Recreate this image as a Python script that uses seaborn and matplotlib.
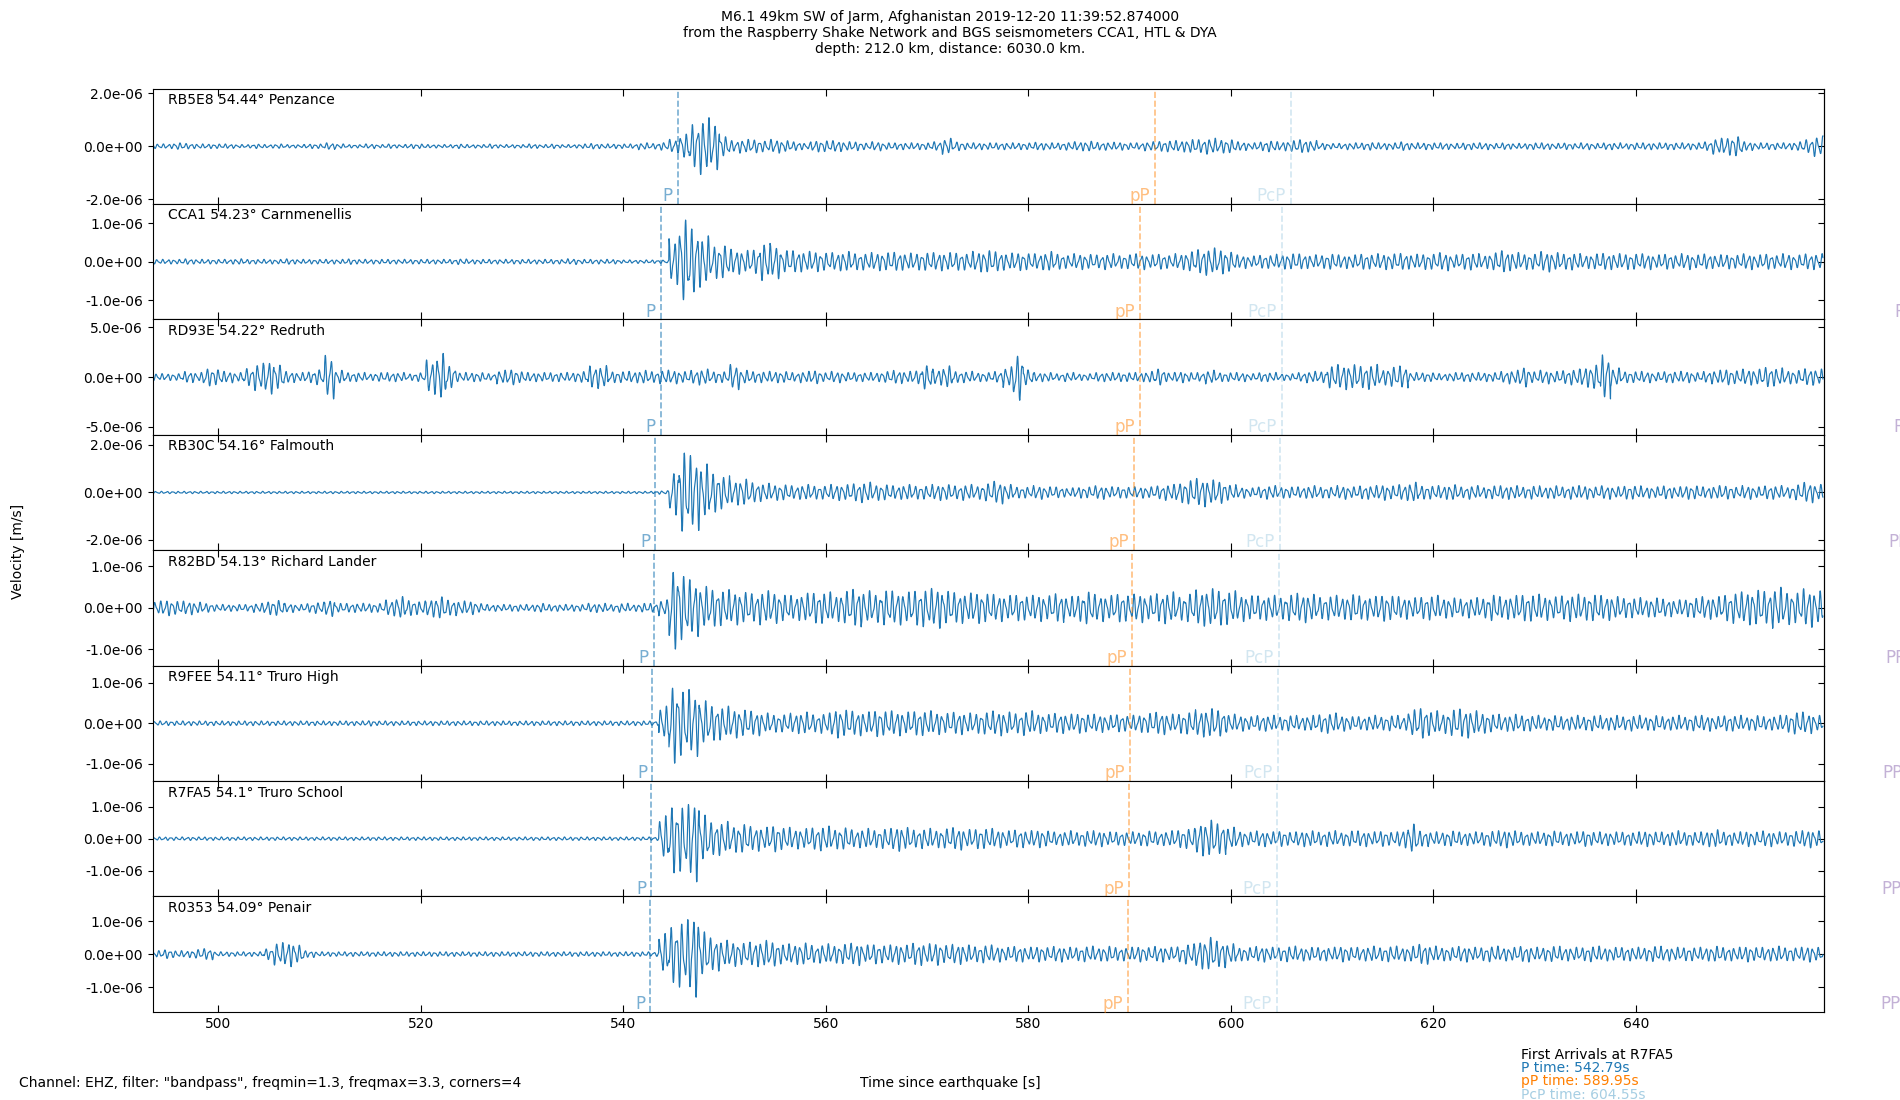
import numpy as np
import pandas as pd
import matplotlib
matplotlib.use('Agg')
import matplotlib.pyplot as plt
import matplotlib.transforms as mtransforms
from matplotlib.ticker import FormatStrFormatter
import seaborn as sns

# ---- station info ----
stations = ['RB5E8', 'CCA1', 'RD93E', 'RB30C', 'R82BD', 'R9FEE', 'R7FA5', 'R0353']
distances = ['54.44', '54.23', '54.22', '54.16', '54.13', '54.11', '54.1', '54.09']
places = ['Penzance', 'Carnmenellis', 'Redruth', 'Falmouth', 'Richard Lander',
          'Truro High', 'Truro School', 'Penair']

# arrival times (s since earthquake)
p_times = [545.39, 543.69, 543.69, 543.16, 543.00, 542.85, 542.79, 542.69]
pP_times = [592.55, 591.01, 591.01, 590.48, 590.27, 590.05, 589.95, 589.84]
pcp_times = [605.98, 605.02, 605.02, 604.86, 604.76, 604.65, 604.55, 604.55]
PP_times = [669.8, 668.0, 667.9, 667.4, 667.1, 666.9, 666.8, 666.7]

# peak velocity per trace (m/s), used as the 100 % level of the readings below
peak_ref = [2.18e-6, 1.5e-6, 5.8e-6, 2.43e-6, 1.39e-6, 1.42e-6, 1.8e-6, 1.75e-6]
tick_step = [2e-6, 1e-6, 5e-6, 2e-6, 1e-6, 1e-6, 1e-6, 1e-6]

# envelope readings, % of peak_ref, one value per second from 494 s to 658 s
env_rb5e8 = [4, 4, 6, 5, 4, 4,
             4, 4, 3, 3, 4, 3, 4, 3, 3, 4,
             4, 6, 4, 3, 3, 4, 3, 4, 3, 4,
             4, 3, 3, 3, 4, 3, 3, 4, 3, 3,
             3, 4, 3, 4, 3, 3, 4, 5, 4, 4,
             4, 4, 6, 5, 7, 12, 22, 40, 50, 42,
             18, 10, 12, 12, 10, 12, 10, 8, 6, 10,
             10, 10, 8, 8, 6, 8, 6, 6, 6, 6,
             6, 8, 14, 8, 6, 6, 6, 6, 6, 6,
             6, 7, 6, 6, 7, 8, 9, 7, 7, 7,
             6, 6, 8, 9, 10, 10, 12, 12, 14, 12,
             12, 8, 6, 8, 10, 8, 10, 12, 10, 6,
             5, 5, 6, 6, 7, 6, 6, 8, 6, 6,
             6, 6, 5, 6, 6, 6, 5, 6, 5, 5,
             6, 6, 5, 6, 5, 6, 5, 6, 6, 5,
             6, 6, 6, 6, 6, 6, 6, 8, 14, 16,
             18, 8, 6, 6, 6, 6, 8, 12, 18]
env_cca1 = [4, 4, 4, 5, 4, 4,
            4, 4, 5, 4, 4, 4, 4, 5, 4, 4,
            4, 4, 4, 5, 4, 4, 4, 4, 4, 4,
            4, 4, 4, 4, 5, 4, 4, 4, 4, 4,
            4, 4, 4, 4, 4, 5, 4, 4, 4, 4,
            3, 3, 3, 3, 3, 40, 76, 60, 45, 30,
            30, 22, 20, 22, 34, 30, 20, 20, 18, 18,
            16, 16, 18, 15, 15, 16, 16, 17, 15, 15,
            16, 16, 16, 16, 15, 18, 20, 18, 15, 16,
            15, 14, 18, 14, 12, 14, 13, 12, 14, 12,
            13, 14, 12, 14, 12, 14, 18, 22, 24, 22,
            18, 12, 10, 12, 12, 13, 14, 14, 12, 12,
            14, 12, 12, 14, 13, 14, 14, 15, 13, 14,
            14, 16, 12, 14, 15, 12, 16, 20, 16, 14,
            14, 18, 16, 14, 15, 12, 14, 15, 14, 14,
            14, 14, 12, 14, 12, 14, 12, 14, 12, 13,
            12, 14, 12, 14, 12, 14, 12, 14, 14]
env_rd93e = [6, 6, 6, 10, 8, 16,
             14, 10, 8, 16, 24, 30, 22, 10, 8, 10,
             14, 38, 12, 8, 8, 6, 8, 8, 8, 6,
             8, 30, 42, 20, 8, 8, 8, 6, 12, 14,
             10, 8, 8, 8, 8, 8, 10, 20, 20, 10,
             10, 10, 12, 10, 12, 12, 10, 12, 14, 10,
             10, 22, 12, 10, 10, 10, 10, 8, 10, 12,
             8, 10, 8, 8, 8, 8, 10, 12, 10, 12,
             22, 14, 20, 10, 10, 8, 8, 10, 18, 42,
             14, 8, 8, 6, 8, 6, 6, 8, 8, 8,
             8, 8, 10, 15, 8, 10, 8, 8, 12, 8,
             8, 8, 6, 8, 8, 6, 6, 8, 10, 10,
             20, 22, 22, 20, 22, 14, 18, 20, 8, 8,
             8, 6, 8, 8, 8, 8, 8, 10, 12, 18,
             10, 12, 10, 12, 14, 18, 22, 40, 16, 10,
             10, 10, 8, 10, 10, 10, 8, 10, 12, 14,
             12, 14, 14, 18, 16, 12, 12, 15, 14]
env_rb30c = [2, 2, 2, 2, 2, 2,
             2, 2, 2, 2, 2, 2, 2, 2, 2, 2,
             2, 2, 2, 2, 2, 2, 2, 2, 2, 2,
             2, 2, 2, 2, 2, 2, 2, 2, 2, 2,
             2, 2, 2, 2, 2, 2, 2, 2, 2, 2,
             2, 2, 2, 2, 3, 40, 74, 66, 50, 36,
             30, 22, 24, 18, 16, 14, 14, 12, 14, 12,
             12, 14, 14, 16, 18, 14, 14, 12, 14, 12,
             12, 14, 14, 12, 14, 12, 16, 20, 14, 10,
             10, 12, 10, 10, 8, 10, 10, 12, 10, 10,
             10, 10, 10, 12, 14, 18, 22, 25, 22, 20,
             14, 10, 8, 10, 12, 10, 10, 10, 12, 10,
             10, 12, 10, 12, 12, 14, 12, 14, 18, 12,
             12, 12, 14, 10, 12, 10, 12, 12, 12, 10,
             12, 10, 12, 10, 12, 12, 10, 12, 10, 12,
             12, 10, 10, 12, 10, 12, 12, 10, 12, 12,
             10, 12, 10, 12, 12, 10, 14, 18, 14]
env_r82bd = [12, 14, 12, 12, 10, 8,
             6, 6, 6, 6, 8, 12, 14, 8, 6, 8,
             10, 15, 8, 8, 8, 8, 8, 14, 20, 14,
             12, 16, 20, 14, 12, 12, 8, 6, 6, 6,
             6, 6, 8, 6, 6, 6, 6, 8, 8, 6,
             8, 6, 8, 8, 14, 74, 60, 50, 38, 34,
             32, 30, 28, 26, 30, 28, 24, 22, 26, 28,
             28, 24, 30, 34, 30, 26, 32, 30, 28, 32,
             34, 36, 30, 28, 26, 28, 26, 24, 22, 24,
             22, 24, 22, 26, 20, 24, 30, 24, 22, 26,
             24, 26, 22, 26, 28, 22, 26, 32, 34, 32,
             30, 24, 22, 22, 22, 20, 24, 26, 24, 20,
             22, 20, 24, 22, 20, 24, 22, 20, 18, 20,
             22, 18, 18, 16, 18, 18, 24, 20, 22, 24,
             24, 22, 20, 22, 24, 22, 24, 22, 20, 18,
             18, 16, 18, 16, 14, 16, 18, 20, 20, 24,
             28, 30, 32, 30, 36, 30, 28, 34, 30]
env_r9fee = [4, 4, 4, 4, 4, 4,
             4, 4, 4, 4, 4, 4, 4, 4, 4, 4,
             4, 4, 4, 4, 4, 5, 4, 4, 4, 4,
             4, 4, 4, 4, 4, 4, 4, 4, 4, 4,
             4, 4, 4, 4, 4, 4, 4, 4, 4, 4,
             4, 4, 4, 4, 30, 72, 60, 58, 40, 32,
             30, 26, 24, 22, 18, 16, 16, 18, 20, 16,
             18, 26, 24, 22, 20, 24, 22, 22, 20, 22,
             22, 20, 18, 20, 18, 18, 20, 22, 20, 18,
             22, 18, 16, 18, 16, 18, 16, 16, 14, 16,
             14, 16, 18, 20, 16, 18, 20, 24, 26, 24,
             16, 14, 12, 14, 14, 12, 14, 12, 14, 16,
             18, 14, 12, 12, 14, 12, 14, 12, 24, 28,
             22, 18, 24, 26, 22, 18, 16, 14, 16, 14,
             14, 12, 14, 12, 14, 12, 14, 12, 14, 12,
             14, 12, 14, 12, 14, 12, 14, 14, 12, 14,
             14, 12, 14, 12, 14, 16, 20, 18, 14]
env_r7fa5 = [3, 3, 3, 3, 3, 3,
             3, 3, 3, 3, 3, 3, 3, 3, 3, 3,
             3, 3, 3, 3, 3, 3, 3, 3, 3, 3,
             3, 3, 3, 3, 3, 3, 3, 3, 3, 3,
             3, 3, 3, 3, 3, 3, 3, 3, 3, 3,
             3, 3, 3, 3, 40, 62, 60, 75, 42, 30,
             30, 24, 26, 22, 20, 24, 20, 18, 18, 20,
             22, 18, 20, 16, 18, 16, 18, 22, 20, 16,
             18, 16, 18, 20, 16, 18, 18, 16, 14, 16,
             14, 16, 14, 12, 14, 12, 14, 14, 12, 12,
             12, 12, 14, 12, 14, 16, 18, 30, 33, 28,
             20, 14, 12, 14, 12, 14, 12, 14, 14, 12,
             14, 12, 14, 14, 12, 14, 12, 16, 26, 14,
             12, 12, 14, 12, 12, 12, 14, 16, 14, 12,
             12, 12, 14, 12, 12, 14, 12, 12, 12, 12,
             12, 14, 12, 12, 14, 12, 12, 14, 16, 12,
             12, 14, 12, 14, 12, 12, 14, 16, 14]
env_r0353 = [6, 8, 6, 6, 8, 10,
             4, 4, 4, 4, 4, 10, 20, 22, 16, 6,
             4, 4, 4, 4, 4, 4, 4, 4, 4, 4,
             4, 4, 4, 4, 4, 4, 4, 4, 4, 4,
             4, 4, 4, 4, 4, 4, 4, 4, 4, 4,
             4, 4, 4, 4, 36, 52, 60, 75, 40, 30,
             24, 22, 20, 22, 24, 22, 18, 18, 20, 16,
             18, 16, 18, 20, 16, 18, 16, 18, 16, 20,
             18, 20, 16, 18, 16, 14, 16, 14, 12, 14,
             12, 14, 12, 14, 12, 12, 14, 12, 14, 12,
             12, 14, 12, 14, 12, 14, 18, 26, 30, 24,
             18, 12, 12, 14, 12, 12, 14, 12, 12, 12,
             12, 14, 12, 12, 14, 12, 14, 12, 14, 18,
             14, 12, 12, 14, 12, 12, 14, 12, 12, 14,
             12, 12, 14, 12, 12, 12, 14, 12, 12, 12,
             12, 12, 14, 12, 12, 12, 12, 12, 14, 12,
             12, 14, 12, 12, 14, 12, 12, 14, 12]
envelopes = [env_rb5e8, env_cca1, env_rd93e, env_rb30c,
             env_r82bd, env_r9fee, env_r7fa5, env_r0353]

t_start, t_end = 493.54, 658.55
x_ticks = [500, 520, 540, 560, 580, 600, 620, 640]

# ---- build long-form table (envelope readings drawn on an oscillating trace) ----
t = np.arange(493.5, 658.5, 0.02)
idx = np.clip((t - 493.5).astype(int), 0, 164)
frames = []
for i, st in enumerate(stations):
    wave = 0.7 * np.sin(2 * np.pi * 1.8 * t + 0.7 * i) + 0.3 * np.sin(2 * np.pi * 3.1 * t + 1.3 * i)
    env = np.array(envelopes[i]) / 100.0 * peak_ref[i]
    frames.append(pd.DataFrame({'time': t, 'velocity': env[idx] * wave, 'station': st}))
df = pd.concat(frames, ignore_index=True)

c_P, c_pP, c_PcP, c_PP = '#1f78b4', '#ff7f00', '#a6cee3', '#6a3d9a'

fig, axes = plt.subplots(8, 1, figsize=(19, 11), dpi=100, sharex=True)
fig.subplots_adjust(left=0.0804, right=0.9598, top=0.9195, bottom=0.0802, hspace=0)

for i, ax in enumerate(axes):
    sub = df[df['station'] == stations[i]]
    sns.lineplot(data=sub, x='time', y='velocity', ax=ax, color='#1f77b4',
                 lw=0.85, estimator=None, sort=False)
    ax.set_xlabel('')
    ax.set_ylabel('')
    ax.set_xlim(t_start, t_end)
    ax.set_ylim(-peak_ref[i], peak_ref[i])
    ticks = [-tick_step[i], 0, tick_step[i]]
    ax.set_yticks(ticks)
    ax.yaxis.set_major_formatter(FormatStrFormatter('%.1e'))
    ax.set_xticks(x_ticks)
    ax.tick_params(axis='x', direction='in', top=True, bottom=True, length=5)
    ax.tick_params(axis='y', direction='out', left=True, right=False, labelsize=10)
    sec = ax.secondary_yaxis('right')
    sec.set_yticks(ticks)
    sec.tick_params(direction='in', labelright=False, length=4)

    ax.text(0.0094, 0.90, f'{stations[i]} {distances[i]}° {places[i]}',
            transform=ax.transAxes, ha='left', va='center', fontsize=10)

    trans = mtransforms.blended_transform_factory(ax.transData, ax.transAxes)
    for tt, col, name, a in [(p_times[i], c_P, 'P', 0.6), (pP_times[i], c_pP, 'pP', 0.5),
                             (pcp_times[i], c_PcP, 'PcP', 0.5)]:
        ax.axvline(tt, color=col, alpha=a, ls='--', lw=1.2)
        ax.text(tt - 0.5, -0.01, name, color=col, alpha=a, transform=trans,
                ha='right', va='bottom', fontsize=12)
    # PP arrives after the plotted window; its label sits just past the right edge
    ax.text(PP_times[i] - 0.5, -0.01, 'PP', color=c_PP, alpha=0.4, transform=trans,
            ha='right', va='bottom', fontsize=12, clip_on=False)

axes[-1].tick_params(axis='x', labelsize=10)

fig.text(0.5, 0.97, 'M6.1 49km SW of Jarm, Afghanistan 2019-12-20 11:39:52.874000\n'
         'from the Raspberry Shake Network and BGS seismometers CCA1, HTL & DYA\n'
         'depth: 212.0 km, distance: 6030.0 km.', ha='center', va='center', fontsize=10)
fig.text(0.0095, 0.499, 'Velocity [m/s]', rotation=90, ha='center', va='center', fontsize=10)
fig.text(0.01, 0.0150, 'Channel: EHZ, filter: "bandpass", freqmin=1.3, freqmax=3.3, corners=4',
         ha='left', va='center', fontsize=10)
fig.text(0.5, 0.0150, 'Time since earthquake [s]', ha='center', va='center', fontsize=10)
fig.text(0.8005, 0.0410, 'First Arrivals at R7FA5', ha='left', va='center', fontsize=10)
fig.text(0.8005, 0.0290, f'P time: {p_times[6]:.2f}s', color=c_P, ha='left', va='center', fontsize=10)
fig.text(0.8005, 0.0170, f'pP time: {pP_times[6]:.2f}s', color=c_pP, ha='left', va='center', fontsize=10)
fig.text(0.8005, 0.0045, f'PcP time: {pcp_times[6]:.2f}s', color=c_PcP, ha='left', va='center', fontsize=10)

fig.savefig('out.png', dpi=100)
